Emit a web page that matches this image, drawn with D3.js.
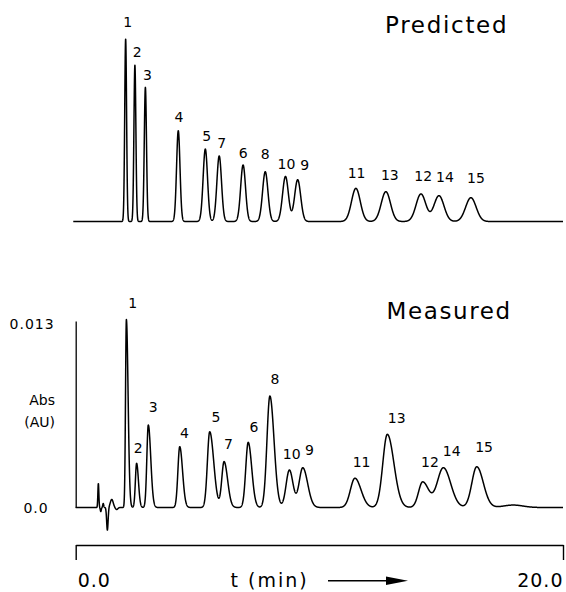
<!DOCTYPE html>
<html>
<head>
<meta charset="utf-8">
<script src="https://cdn.jsdelivr.net/npm/d3@7"></script>
<style>
  html, body { margin: 0; padding: 0; background: #fff; }
  svg { display: block; font-family: "DejaVu Sans", sans-serif; }
</style>
</head>
<body>
<svg id="chart" width="566" height="592"></svg>
<script>
// ---------------- DATA ----------------
// Peak labels in elution order
const peakNames = ["1","2","3","4","5","7","6","8","10","9","11","13","12","14","15"];

// Predicted chromatogram: retention time (min), height (AU), width sigma (min)
const predTime   = [2.05, 2.43, 2.86, 4.21, 5.32, 5.89, 6.87, 7.78, 8.61, 9.11, 11.50, 12.73, 14.17, 14.91, 16.22];
const predHeight = [0.01272, 0.01091, 0.00935, 0.00633, 0.00505, 0.00457, 0.00394, 0.00347, 0.00314, 0.00291, 0.00231, 0.00208, 0.00192, 0.00180, 0.00166];
const predSigma  = [0.038, 0.040, 0.045, 0.070, 0.090, 0.095, 0.100, 0.110, 0.120, 0.125, 0.180, 0.190, 0.200, 0.205, 0.215];

// Measured chromatogram: retention time (min), height (AU), front / tail sigma (min)
const measTime   = [2.08, 2.50, 2.98, 4.27, 5.50, 6.09, 7.08, 7.97, 8.77, 9.32, 11.46, 12.79, 14.24, 15.09, 16.46];
const measHeight = [0.0131, 0.00308, 0.00575, 0.00424, 0.00528, 0.00319, 0.00454, 0.00777, 0.00261, 0.00277, 0.00204, 0.00510, 0.00178, 0.00277, 0.00284];
const measSigmaL = [0.035, 0.050, 0.060, 0.075, 0.095, 0.095, 0.100, 0.120, 0.135, 0.150, 0.185, 0.185, 0.170, 0.250, 0.200];
const measSigmaR = [0.070, 0.075, 0.100, 0.115, 0.165, 0.145, 0.145, 0.170, 0.150, 0.200, 0.250, 0.270, 0.250, 0.300, 0.270];

// Measured baseline disturbances (injection noise, late bump)
const distTime   = [0.93, 1.03, 1.13, 1.30, 1.48, 1.68, 17.96];
const distHeight = [0.00167, -0.00028, 0.00028, -0.00158, 0.00056, -0.00014, 0.00017];
const distSigma  = [0.020, 0.020, 0.020, 0.030, 0.060, 0.050, 0.400];

// Axis ticks
const xTickValues = [0, 20];
const xTickLabels = ["0.0", "20.0"];
const yTickValues = [0, 0.013];
const yTickLabels = ["0.0", "0.013"];

// ---------------- LAYOUT ----------------
const predLabelDx = [2, 2.3, 2, 0.7, 1.4, 2.4, 0, 0, 1, 7, 0.7, 4, 2.3, 6, 5];
const predLabelDy = [-17.3, -13.3, -12.3, -14, -13, -12.7, -11.7, -17.7, -12.7, -15, -15.6, -16.7, -18, -19, -20];
const measLabelDx = [6.4, 1.6, 5, 4.6, 6.3, 4.3, 5.7, 5, 2.4, 6.6, 6.7, 9.4, 7.3, 8.4, 7.3];
const measLabelDy = [-17, -15, -18.3, -14, -15, -17.7, -15.6, -16.7, -16, -17.7, -16.6, -16, -20.3, -17, -20];
const yLabelDx = [-27, -21];
const yLabelDy = [0, 3];

const svg = d3.select("#chart");

const x = d3.scaleLinear().domain([0, 20]).range([75.7, 563]);
const yPred = d3.scaleLinear().domain([0, 0.013]).range([221.5, 35]);
const yMeas = d3.scaleLinear().domain([0, 0.013]).range([507.5, 321]);

function bigauss(t, t0, h, sl, sr) {
  const s = t < t0 ? sl : sr;
  const z = (t - t0) / s;
  return h * Math.exp(-0.5 * z * z);
}
function predSignal(t) {
  let v = 0;
  for (let i = 0; i < predTime.length; i++) v += bigauss(t, predTime[i], predHeight[i], predSigma[i], predSigma[i]);
  return v;
}
function measSignal(t) {
  let v = 0;
  for (let i = 0; i < measTime.length; i++) v += bigauss(t, measTime[i], measHeight[i], measSigmaL[i], measSigmaR[i]);
  for (let i = 0; i < distTime.length; i++) v += bigauss(t, distTime[i], distHeight[i], distSigma[i], distSigma[i]);
  return v;
}

const step = 0.004;
const predGrid = d3.range(-0.1, 20 + step / 2, step);
const measGrid = d3.range(0, 20 + step / 2, step);

const line = (yS, f) => d3.line().x(t => x(t)).y(t => yS(f(t)));

svg.append("path")
  .attr("d", line(yPred, predSignal)(predGrid))
  .attr("fill", "none").attr("stroke", "#000").attr("stroke-width", 1.5)
  .attr("stroke-linejoin", "round");

svg.append("path")
  .attr("d", line(yMeas, measSignal)(measGrid))
  .attr("fill", "none").attr("stroke", "#000").attr("stroke-width", 1.5)
  .attr("stroke-linejoin", "round");

// Peak labels
const labelFont = 14;
peakNames.forEach((n, i) => {
  svg.append("text")
    .attr("x", x(predTime[i]) + predLabelDx[i])
    .attr("y", yPred(predSignal(predTime[i])) + predLabelDy[i] + 5)
    .attr("text-anchor", "middle")
    .attr("font-size", labelFont)
    .text(n);
  svg.append("text")
    .attr("x", x(measTime[i]) + measLabelDx[i])
    .attr("y", yMeas(measSignal(measTime[i])) + measLabelDy[i] + 5)
    .attr("text-anchor", "middle")
    .attr("font-size", labelFont)
    .text(n);
});

// Titles
svg.append("text").attr("x", 385).attr("y", 33.3)
  .attr("font-size", 23).attr("letter-spacing", 1.7).text("Predicted");
svg.append("text").attr("x", 386.5).attr("y", 319.3)
  .attr("font-size", 23).attr("letter-spacing", 1.6).text("Measured");

// Y axis (measured)
const yAxis = d3.axisLeft(yMeas).tickValues(yTickValues).tickSize(0)
  .tickFormat((d, i) => yTickLabels[i]);
const gy = svg.append("g").attr("transform", `translate(${x(0)},0)`).call(yAxis);
gy.select(".domain").attr("stroke", "#000").attr("stroke-width", 1.3);
gy.selectAll("text").attr("font-family", "DejaVu Sans, sans-serif")
  .attr("font-size", 14).attr("letter-spacing", 1).attr("fill", "#000")
  .attr("x", (d, i) => yLabelDx[i])
  .attr("y", (d, i) => yLabelDy[i])
  .attr("dy", "0.35em");

svg.append("text").attr("x", 55).attr("y", 405).attr("text-anchor", "end")
  .attr("font-size", 14).text("Abs");
svg.append("text").attr("x", 55).attr("y", 427).attr("text-anchor", "end")
  .attr("font-size", 14).text("(AU)");

// X axis bracket
const xAxis = d3.axisBottom(x).tickValues(xTickValues).tickSize(15).tickSizeOuter(0)
  .tickFormat((d, i) => xTickLabels[i]);
const gx = svg.append("g").attr("transform", "translate(0,545)").call(xAxis);
gx.select(".domain").attr("stroke", "#000").attr("stroke-width", 1.4);
gx.selectAll(".tick line").attr("stroke", "#000").attr("stroke-width", 1.4);
gx.selectAll(".tick text")
  .attr("font-family", "DejaVu Sans, sans-serif").attr("font-size", 19)
  .attr("letter-spacing", 1).attr("fill", "#000")
  .attr("y", 41.7).attr("dy", 0)
  .attr("text-anchor", (d, i) => i === 0 ? "start" : "end")
  .attr("x", (d, i) => i === 0 ? 1.5 : 0);

// Axis title with arrow
svg.append("text").attr("x", 230.6).attr("y", 586.7)
  .attr("font-size", 19).attr("letter-spacing", 2).attr("xml:space", "preserve")
  .text("t (min)");
svg.append("line").attr("x1", 328).attr("x2", 392).attr("y1", 580.7).attr("y2", 580.7)
  .attr("stroke", "#000").attr("stroke-width", 1.5);
svg.append("path").attr("d", "M386,576.5 L408,580.7 L386,584.9 Z").attr("fill", "#000");
</script>
</body>
</html>
